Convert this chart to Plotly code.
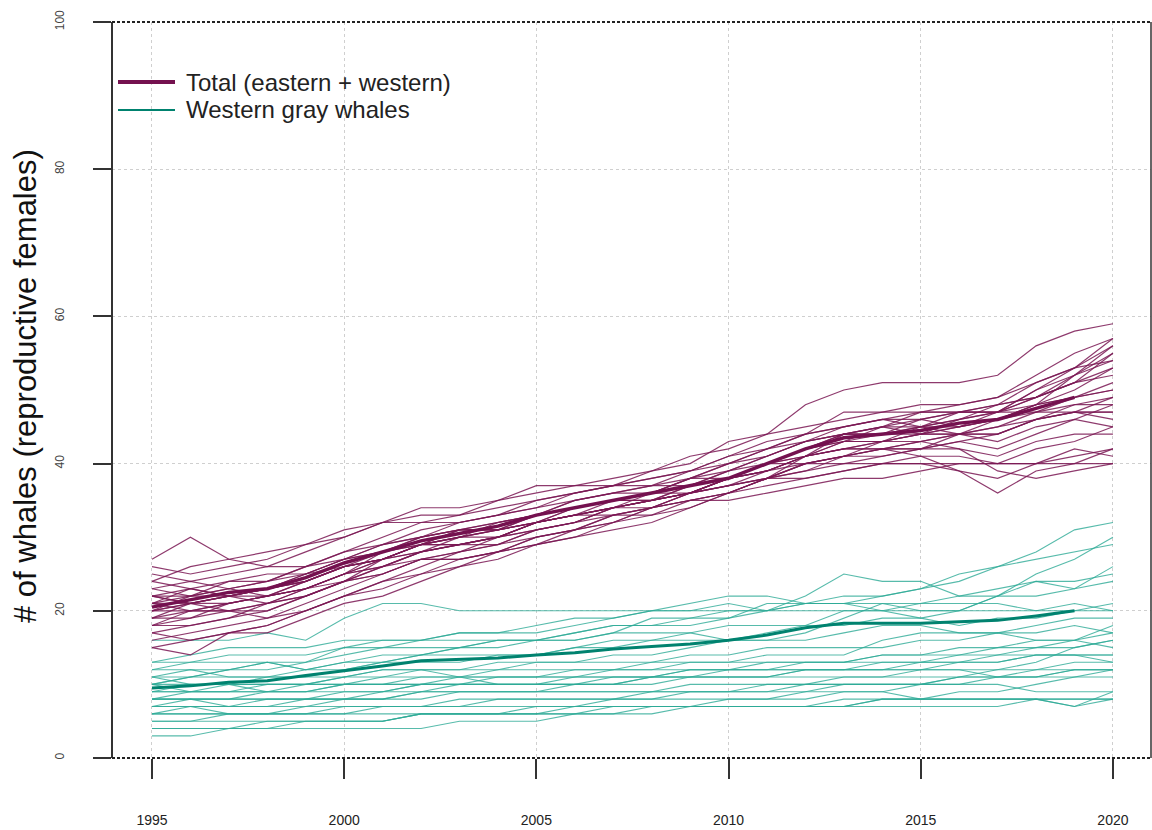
import plotly.graph_objects as go

years = list(range(1995, 2021))

# Total (eastern + western) simulated trajectories, 1995..2020
total_runs = [
    [27,30,27,26,26,27,28,29,30,31,33,34,35,36,38,40,42,44,47,47,48,48,49,51,53,54],
    [26,25,26,27,29,31,32,33,33,34,35,36,37,39,41,42,44,48,50,51,51,51,52,56,58,59],
    [25,24,25,26,28,30,32,34,34,35,36,37,38,39,40,43,44,45,46,47,47,48,49,52,55,57],
    [24,26,27,28,29,30,32,32,33,35,37,37,37,38,39,41,43,44,45,46,46,47,47,50,52,56],
    [23,24,23,24,26,28,29,31,32,33,34,35,36,37,38,40,41,43,44,44,45,46,48,49,51,53],
    [22,23,24,25,25,27,29,30,31,32,33,35,36,36,38,39,40,41,43,45,47,47,47,48,52,55],
    [22,21,22,23,25,27,28,30,31,31,32,33,35,36,37,38,40,42,43,44,44,45,46,48,49,50],
    [21,22,24,24,25,26,27,29,30,31,33,34,35,35,36,38,39,41,43,43,44,44,45,47,49,51],
    [21,21,22,23,24,26,27,29,30,30,32,33,34,34,36,37,39,41,42,43,45,46,47,47,48,48],
    [21,20,21,22,23,25,27,28,29,30,31,32,33,34,35,36,38,40,41,42,43,44,44,46,48,49],
    [20,21,22,23,24,26,27,29,29,30,32,33,33,34,36,38,40,42,44,44,45,47,47,49,51,52],
    [20,21,21,22,23,25,26,28,30,31,32,34,35,36,38,38,39,40,41,42,42,44,45,46,47,47],
    [20,20,21,22,24,26,28,29,29,30,31,32,34,35,36,37,38,39,40,41,42,43,44,46,47,46],
    [19,21,22,22,23,25,27,29,31,32,33,34,35,35,36,38,40,42,44,45,44,44,43,45,46,45],
    [19,20,20,21,22,24,26,28,29,29,31,32,34,36,37,38,40,42,43,43,43,42,41,43,44,44],
    [18,19,21,22,24,26,27,28,29,30,32,33,34,35,37,39,41,43,44,44,46,47,48,51,53,56],
    [18,18,19,20,22,24,26,28,29,30,32,33,34,35,36,38,39,41,42,42,41,41,40,40,41,42],
    [17,18,19,21,23,25,26,27,27,28,30,31,33,34,36,37,38,40,40,40,40,40,40,40,40,40],
    [17,16,17,18,20,22,24,25,27,28,29,31,32,34,35,36,38,41,44,45,45,45,46,48,50,53],
    [16,17,18,19,21,23,25,27,27,28,30,31,33,33,35,35,36,37,38,38,39,40,40,42,43,45],
    [15,14,17,18,20,22,23,25,26,28,29,30,32,33,34,36,37,38,39,40,40,39,38,40,42,41],
    [15,16,17,17,19,21,22,24,26,27,29,30,31,32,34,36,38,40,41,41,42,42,39,38,39,40],
    [22,22,23,24,26,28,30,32,32,33,34,36,37,38,39,41,42,43,44,45,46,45,47,50,53,57],
    [23,22,22,23,24,26,27,29,30,32,33,35,36,37,39,40,42,44,45,46,47,47,48,49,51,55],
    [20,22,23,22,23,24,25,27,28,29,30,31,32,34,35,36,38,39,41,42,43,44,46,48,49,50],
    [21,23,22,21,23,25,28,30,31,31,32,33,34,35,36,38,39,41,42,42,42,43,42,44,46,48],
    [24,23,22,23,25,27,29,30,32,33,35,36,37,37,37,38,40,41,42,43,44,46,47,49,52,54],
    [19,19,20,20,22,24,25,27,28,29,31,32,34,35,37,39,41,43,45,46,45,44,44,46,47,47],
    [18,20,20,19,20,22,24,26,28,30,32,34,35,36,36,38,40,40,41,43,44,45,46,47,47,49],
    [22,21,20,21,22,24,27,29,31,31,32,33,34,35,36,37,38,38,39,40,41,39,36,39,40,42],
]

# Western gray whale simulated trajectories, 1995..2020
western_runs = [
    [16,16,16,17,16,19,21,21,20,20,20,20,20,20,20,20,20,20,20,20,20,20,20,20,20,20],
    [13,14,15,15,15,16,16,16,17,17,18,19,19,20,21,22,22,21,22,22,23,25,26,27,28,29],
    [12,12,12,13,13,15,16,16,16,16,16,17,18,18,18,19,20,22,25,24,24,22,23,24,23,24],
    [12,13,13,13,12,13,14,14,15,16,16,16,17,19,19,19,21,21,21,20,21,22,22,25,27,30],
    [11,12,11,11,12,13,13,14,14,14,14,15,16,16,17,18,18,18,18,19,19,20,22,22,23,26],
    [11,11,12,13,12,12,13,14,15,15,16,16,17,17,17,16,17,18,20,20,19,18,19,19,20,21],
    [11,10,10,11,11,11,12,12,12,13,13,13,14,14,15,16,16,16,17,18,18,17,17,17,18,17],
    [10,11,11,11,11,12,13,13,13,14,14,15,15,16,16,16,16,17,19,21,21,21,21,20,21,20],
    [10,10,10,10,10,11,11,12,12,12,13,13,13,13,14,14,15,15,15,15,16,16,17,16,16,15],
    [10,9,9,10,10,11,12,12,11,12,12,12,12,13,13,13,14,14,14,16,17,17,17,18,19,19],
    [9,10,10,9,9,10,10,11,11,11,11,12,12,12,13,13,13,13,13,14,14,14,15,15,15,16],
    [9,9,10,10,10,10,10,10,10,11,11,11,12,12,12,12,13,13,13,13,13,13,13,14,14,13],
    [9,9,9,9,9,10,10,10,11,11,11,11,11,11,12,12,12,12,12,12,12,12,11,11,12,12],
    [8,9,9,9,10,10,11,11,11,10,10,10,10,11,11,11,11,12,12,13,13,14,14,15,16,18],
    [8,8,8,9,9,9,9,10,10,10,10,10,11,11,11,11,11,11,11,11,11,11,11,11,12,12],
    [8,8,8,8,8,8,8,8,9,9,9,9,9,9,10,10,10,10,10,10,10,11,11,11,11,11],
    [7,8,8,8,8,9,9,10,10,10,10,10,10,10,11,11,11,12,12,12,12,13,13,14,14,14],
    [7,7,7,7,7,8,8,9,9,9,9,9,9,9,9,9,9,10,10,10,10,10,10,9,9,9],
    [7,7,6,6,7,7,7,7,7,8,8,8,8,8,9,9,9,9,10,10,10,11,12,13,15,16],
    [6,6,6,6,6,6,7,7,7,7,7,7,8,8,8,8,8,9,9,9,8,8,8,8,8,8],
    [6,6,6,6,6,6,6,6,6,6,6,7,7,7,7,7,7,7,8,8,8,8,8,8,7,8],
    [5,5,6,6,6,7,7,7,8,8,8,8,8,9,9,9,10,10,11,11,12,12,12,12,13,13],
    [5,5,5,5,5,5,5,6,6,6,6,6,6,7,7,7,7,7,7,8,8,9,9,10,11,12],
    [4,4,4,4,5,5,5,6,6,6,7,7,7,7,7,8,8,8,9,9,10,10,11,12,12,12],
    [3,3,4,4,4,4,4,4,5,5,5,6,6,6,7,7,7,7,7,8,8,8,8,8,8,8],
    [4,4,4,5,5,5,5,6,6,6,6,6,7,7,7,7,7,7,7,7,7,7,7,8,7,9],
    [13,13,14,14,14,15,15,16,17,17,17,18,19,20,20,21,20,21,21,22,23,24,26,28,31,32],
    [10,11,12,12,13,14,15,15,15,16,16,17,18,18,19,20,20,21,21,21,20,20,22,24,24,25],
    [6,7,7,8,8,8,9,9,10,10,10,11,11,11,12,12,12,13,13,14,14,15,15,16,16,17],
    [8,8,7,7,8,8,8,9,9,9,9,10,10,11,11,12,12,12,12,12,13,13,14,14,14,14],
]

# Mean trajectories (1995..2019)
mean_years = list(range(1995, 2020))
total_mean = [20.5,21.5,22.5,23,24.5,26.5,28,29.5,30.5,31.5,33,34,35,36,37,38,40,42,43.5,44,44.5,45.5,46,47.5,49]
western_mean = [9.5,9.8,10.3,10.5,11.2,11.8,12.5,13.2,13.4,13.6,14,14.3,14.8,15.1,15.5,16,16.7,17.7,18.3,18.3,18.3,18.5,18.7,19.3,20]

legend_labels = ["Total (eastern + western)", "Western gray whales"]
x_ticks = [1995, 2000, 2005, 2010, 2015, 2020]
y_ticks = [0, 20, 40, 60, 80, 100]

PURPLE_THIN = "rgba(122,24,84,0.85)"
PURPLE = "#74114f"
TEAL_THIN = "rgba(45,170,150,0.8)"
TEAL = "#00826f"
FONT = "Liberation Sans, Arial, sans-serif"

fig = go.Figure()
for run in western_runs:
    fig.add_trace(go.Scatter(x=years, y=run, mode="lines", line=dict(color=TEAL_THIN, width=1.1),
                             showlegend=False, hoverinfo="skip"))
for run in total_runs:
    fig.add_trace(go.Scatter(x=years, y=run, mode="lines", line=dict(color=PURPLE_THIN, width=1.2),
                             showlegend=False, hoverinfo="skip"))
fig.add_trace(go.Scatter(x=mean_years, y=western_mean, mode="lines", line=dict(color=TEAL, width=3),
                         name=legend_labels[1], showlegend=False))
fig.add_trace(go.Scatter(x=mean_years, y=total_mean, mode="lines", line=dict(color=PURPLE, width=3.5),
                         name=legend_labels[0], showlegend=False))

W, H = 1152, 830
ml, mr, mt, mb = 112, 1, 22, 72
pw = W - ml - mr
ph = H - mt - mb

def px_x(p):
    return (p - ml) / pw

def px_y(p):
    return (H - mb - p) / ph

shapes = [
    dict(type="line", xref="paper", yref="paper", x0=0, x1=0, y0=0, y1=1, line=dict(color="#333", width=2)),
    dict(type="line", xref="paper", yref="paper", x0=1, x1=1, y0=0, y1=1, line=dict(color="#333", width=1.5)),
    dict(type="line", xref="paper", yref="paper", x0=0, x1=1, y0=1, y1=1, line=dict(color="#222", width=2, dash="3px,2px")),
    dict(type="line", xref="paper", yref="paper", x0=0, x1=1, y0=0, y1=0, line=dict(color="#222", width=2, dash="3px,2px")),
    # legend samples
    dict(type="line", xref="paper", yref="paper", x0=px_x(118), x1=px_x(175), y0=px_y(82), y1=px_y(82),
         line=dict(color=PURPLE, width=4)),
    dict(type="line", xref="paper", yref="paper", x0=px_x(118), x1=px_x(175), y0=px_y(110), y1=px_y(110),
         line=dict(color=TEAL, width=1.8)),
]

annotations = [
    dict(text=legend_labels[0], xref="paper", yref="paper", x=px_x(184), y=px_y(82), xanchor="left",
         yanchor="middle", showarrow=False, font=dict(size=24, color="#222", family=FONT)),
    dict(text=legend_labels[1], xref="paper", yref="paper", x=px_x(184), y=px_y(110), xanchor="left",
         yanchor="middle", showarrow=False, font=dict(size=24, color="#222", family=FONT)),
    dict(text="# of whales (reproductive females)", xref="paper", yref="paper", x=px_x(25), y=px_y(386),
         xanchor="center", yanchor="middle", textangle=-90, showarrow=False,
         font=dict(size=31, color="#111", family=FONT)),
]

fig.update_layout(
    width=W, height=H,
    margin=dict(l=ml, r=mr, t=mt, b=mb),
    paper_bgcolor="white", plot_bgcolor="white",
    font=dict(family=FONT, color="#333"),
    shapes=shapes, annotations=annotations, showlegend=False,
    xaxis=dict(range=[1993.96, 2020.99], tickmode="array", tickvals=x_ticks, ticktext=[str(v) for v in x_ticks],
               ticks="outside", ticklen=20, tickwidth=1.5, tickcolor="#333", showline=False, zeroline=False,
               showgrid=True, gridcolor="#cfcfcf", griddash="dot", gridwidth=1,
               tickfont=dict(size=14, color="#222"), ticklabelstandoff=29),
    yaxis=dict(range=[0, 100], tickmode="array", tickvals=y_ticks, ticktext=[str(v) for v in y_ticks],
               ticks="outside", ticklen=18, tickwidth=1.5, tickcolor="#333", showline=False, zeroline=False,
               showgrid=True, gridcolor="#cfcfcf", griddash="dot", gridwidth=1, tickangle=-90,
               tickfont=dict(size=12, color="#444"), ticklabelstandoff=24),
)

fig.write_html("out.html", config={"displayModeBar": False},
               post_script="document.body.style.margin='0';document.body.style.padding='0';")
